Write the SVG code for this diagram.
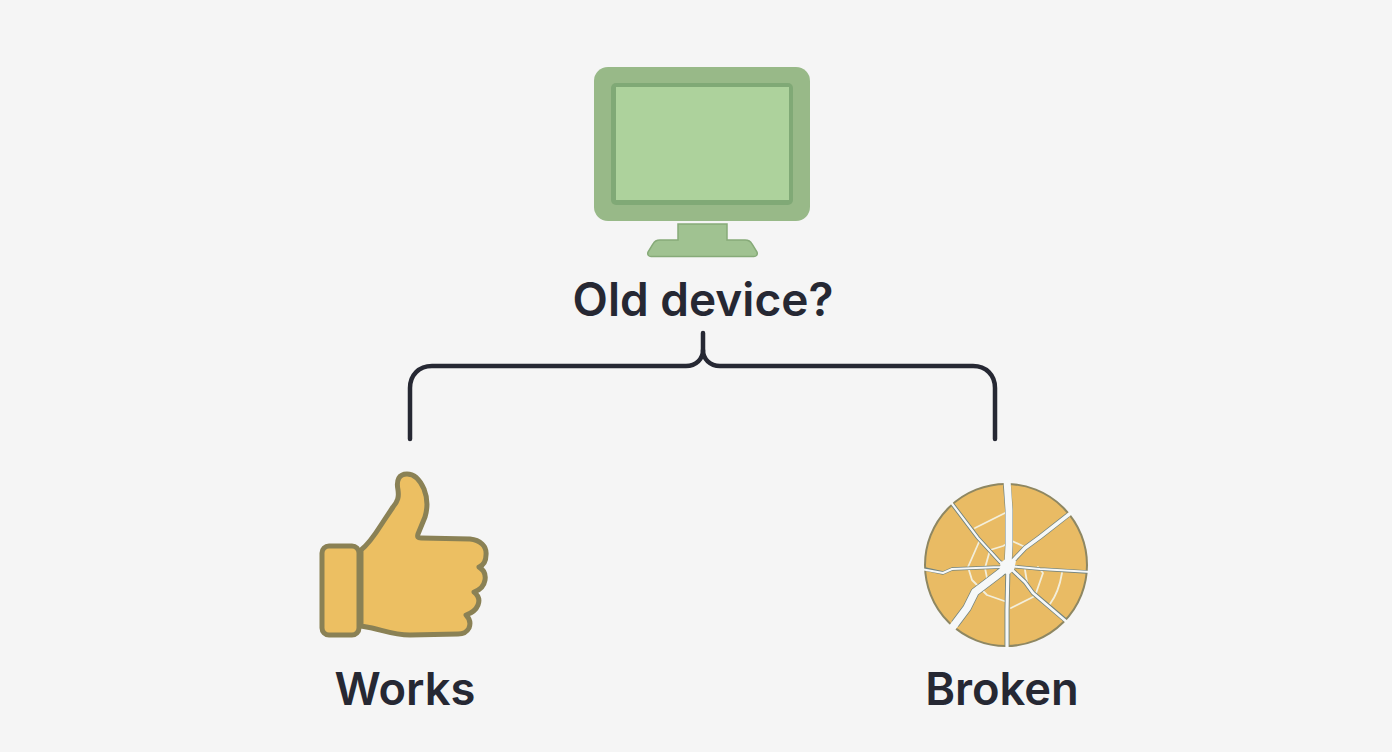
<svg xmlns="http://www.w3.org/2000/svg" width="1392" height="752" viewBox="0 0 1392 752">
<style>
.lbl{font-family:"Inter","Liberation Sans",sans-serif;font-weight:600;font-size:46px;fill:#262833;text-anchor:middle}
.sm{font-size:45.300px}
.conn{fill:none;stroke:#262833;stroke-width:4.500;stroke-linecap:round;stroke-linejoin:round}
.thumb{fill:#ecbf62;stroke:#8a8155;stroke-width:5;stroke-linejoin:round}
.ring{fill:none;stroke:#f3eeda;stroke-width:1.800;stroke-linejoin:round;stroke-linecap:round}
.ce{fill:none;stroke:#71837f;stroke-linecap:butt;stroke-linejoin:round}
.cw{fill:none;stroke:#f6f8f8;stroke-linecap:butt;stroke-linejoin:round}
</style>
<rect width="1392" height="752" fill="#f5f5f5"/>
<g id="connectors">
<path class="conn" d="M703 333V350C703 359 696 366 686 366H432C419 366 410 375 410 388V439"/>
<path class="conn" d="M703 350C703 359 710 366 720 366H973C986 366 995 375 995 388V439"/>
</g>
<g id="node-old-device">
<path d="M678 224H727V240H745C749 240 751 242 752 244L757 252C758 255 756 256.500 754 256.500H651C649 256.500 647 255 648 252L653 244C654 242 656 240 660 240H678Z" fill="#a0c291" stroke="#86aa78" stroke-width="1.500"/>
<rect x="594" y="67" width="216" height="154" rx="14" fill="#98b988"/>
<rect x="611" y="83" width="182" height="122" rx="5" fill="#80a976"/>
<rect x="616" y="87" width="173" height="113" fill="#add29c"/>
<text class="lbl" x="703" y="316">Old device?</text>
</g>
<g id="node-works">
<path class="thumb" d="M361 550C370 543 376 533 383 522L393 507C398 501 399 497 398 490C396 480 399 474 407 474C414 474 420 480 424 489C428 499 428 507 425 517L418 534C417 537 418 538 421 538L470 539C480 540 487 546 486 555C486 561 484 565 479 567C484 570 486 574 485 580C484 586 480 590 474 592C479 596 480 600 478 605C476 610 472 613 466 615C470 619 471 623 469 628C467 632 463 634 458 634L410 635C395 635 385 631 372 628L361 626Z"/>
<rect class="thumb" x="322" y="546" width="37" height="89" rx="7"/>
<text class="lbl sm" x="405" y="705">Works</text>
</g>
<g id="node-broken">
<circle cx="1006" cy="565" r="81" fill="#e9bb64" stroke="#8e8762" stroke-width="2"/>
<path class="ring" d="M975 528L1005 513M979 542L968 567L972 580L987 595L1007 602M1011 608L1035 596L1043 573L1038 567M1025 547L1012 541L1003 546L990 550L985 568L988 583M1062 573C1060 585 1056 596 1050 604M1025 570L1027 582"/>
<g class="ce">
<path stroke-width="8" d="M1007 485L1009 510L1009 545L1008 566"/>
<path stroke-width="4" d="M953 505L978 538L1000 562L1008 566"/>
<path stroke-width="5" d="M1068 515L1040 537L1025 548L1008 566"/>
<path stroke-width="3.500" d="M925 569L943 573L952 569L1000 567L1008 566L1040 569L1087 572"/>
<path stroke-width="9" d="M955 624L967 608L975 592L1000 573L1008 566"/>
<path stroke-width="5" d="M1007 645L1007 610L1008 566"/>
<path stroke-width="4.500" d="M1065 620L1033 593L1025 582L1008 566"/>
</g>
<g class="cw">
<path stroke-width="7" d="M1007 480L1009 510L1009 545L1008 566"/>
<path stroke-width="2.200" d="M950 501L978 538L1000 562L1008 566"/>
<path stroke-width="3.500" d="M1072 512L1040 537L1025 548L1008 566"/>
<path stroke-width="2.200" d="M921 569L943 573L952 569L1000 567L1008 566L1040 569L1091 572"/>
<path stroke-width="7.500" d="M952 628L967 608L975 592L1000 573L1008 566"/>
<path stroke-width="3.200" d="M1007 649L1007 610L1008 566"/>
<path stroke-width="2.800" d="M1068 623L1033 593L1025 582L1008 566"/>
</g>
<path d="M1000 563L1007 558L1016 561L1014 570L1008 575L1001 571Z" fill="#f6f8f8"/>
<text class="lbl sm" x="1002" y="705">Broken</text>
</g>
</svg>
